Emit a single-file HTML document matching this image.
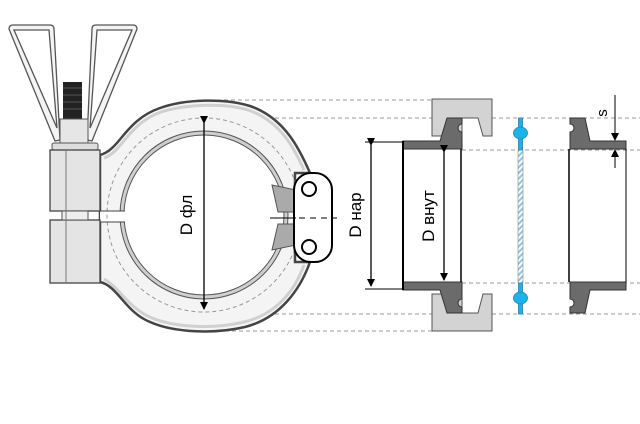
<!DOCTYPE html>
<html><head><meta charset="utf-8"><style>
html,body{margin:0;padding:0;background:#fff}
svg{display:block}
text{font-family:"Liberation Sans",sans-serif;fill:#000}
</style></head><body>
<svg width="640" height="424" viewBox="0 0 640 424" xmlns="http://www.w3.org/2000/svg">
<defs>
<marker id="a" markerWidth="8" markerHeight="10" refX="7" refY="5" orient="auto" markerUnits="userSpaceOnUse"><path d="M0,1 L8,5 L0,9 Z" fill="#000"/></marker>
<pattern id="h" width="4" height="4" patternUnits="userSpaceOnUse" patternTransform="rotate(45)"><rect width="4" height="4" fill="#fff"/><rect width="2" height="4" fill="#8cc6e0"/></pattern>
</defs>
<g stroke="#999" stroke-width="1" stroke-dasharray="4,3" fill="none">
<line x1="217" y1="100" x2="432" y2="100"/>
<line x1="205" y1="118" x2="640" y2="118"/>
<line x1="462" y1="150" x2="640" y2="150"/>
<line x1="462" y1="283" x2="640" y2="283"/>
<line x1="205" y1="314" x2="640" y2="314"/>
<line x1="225" y1="331" x2="432" y2="331"/>
</g>
<g fill="#f4f4f4" stroke="#555" stroke-width="1.3">
<path d="M9,29 Q9,25 13,25 L50,25 Q54,25 54,29 L60,140 L55,141 Z"/>
<path d="M14,30 L49,30 L57,128 Z" fill="#fff"/>
<path d="M137,29 Q137,25 133,25 L96,25 Q92,25 92,29 L87,140 L92,141 Z"/>
<path d="M132,30 L97,30 L90,128 Z" fill="#fff"/>
</g>
<rect x="63" y="82" width="19" height="38" fill="#222"/>
<g stroke="#666" stroke-width="0.8">
<line x1="63" y1="88" x2="82" y2="88"/><line x1="63" y1="95" x2="82" y2="95"/><line x1="63" y1="102" x2="82" y2="102"/><line x1="63" y1="109" x2="82" y2="109"/>
</g>
<rect x="60" y="119" width="28" height="24" fill="#e6e6e6" stroke="#555"/>
<rect x="52" y="143" width="46" height="7" rx="2" fill="#ddd" stroke="#555"/>
<path d="M100,155 C120,150 125,120 160,108 C185,99 225,98 250,106 C285,118 300,150 310,173 L295,173 L295,262 L310,262 C300,290 280,318 245,327 C215,334 175,333 150,322 C125,312 118,286 100,282 Z" fill="#f4f4f4" stroke="#444" stroke-width="2.5"/>
<path d="M104,158 C122,152 128,124 161,112 C186,104 224,103 248,110 C281,121 295,150 304,170" fill="none" stroke="#d0d0d0" stroke-width="3"/>
<path d="M304,265 C295,290 277,314 244,322 C215,329 177,328 152,318 C128,308 120,288 104,279" fill="none" stroke="#d0d0d0" stroke-width="3"/>
<circle cx="204" cy="215" r="84" fill="#cfcfcf" stroke="#555"/>
<circle cx="204" cy="215" r="80" fill="#fff" stroke="#555"/>
<path d="M100,211 L127,211 L127,222 L100,222 Z" fill="#fff" stroke="none"/>
<circle cx="204" cy="215" r="97" fill="none" stroke="#999" stroke-dasharray="4,3"/>
<path d="M272,185 L296,190 L296,212 L278,212 Z" fill="#aaa" stroke="#555"/>
<path d="M278,224 L296,224 L296,245 L272,250 Z" fill="#aaa" stroke="#555"/>
<rect x="50" y="150" width="50" height="61" fill="#e4e4e4" stroke="#444" stroke-width="1.3"/>
<rect x="50" y="220" width="50" height="63" fill="#e4e4e4" stroke="#444" stroke-width="1.3"/>
<rect x="62" y="211" width="26" height="9" fill="#eee" stroke="#555"/>
<line x1="66" y1="150" x2="66" y2="283" stroke="#777"/>
<line x1="100" y1="211" x2="125" y2="211" stroke="#444"/>
<line x1="100" y1="222" x2="125" y2="222" stroke="#444"/>
<rect x="294" y="173" width="38" height="89" rx="17" fill="#fff" stroke="#000" stroke-width="2"/>
<circle cx="309" cy="189" r="7" fill="#fff" stroke="#000" stroke-width="2"/>
<circle cx="309" cy="247" r="7" fill="#fff" stroke="#000" stroke-width="2"/>
<line x1="270" y1="218" x2="296" y2="218" stroke="#000"/>
<line x1="299" y1="218" x2="337" y2="218" stroke="#000" stroke-dasharray="6,5"/>
<line x1="204" y1="123" x2="204" y2="309" stroke="#000" stroke-width="1.3" marker-start="url(#a)" marker-end="url(#a)"/>
<text transform="translate(192,215) rotate(-90)" font-size="17" text-anchor="middle">D фл</text>
<g fill="#d3d3d3" stroke="#555">
<path d="M432,99 L492,99 L492,136 L483,136 L478,118 L462,118 L462,136 L432,136 Z"/>
<path d="M432,331 L492,331 L492,294 L483,294 L478,313 L462,313 L462,294 L432,294 Z"/>
</g>
<g fill="#6b6b6b" stroke="#333">
<path d="M403,141 L440,141 L447,118 L462,118 L462,124 A4,4 0 0 0 462,132 L462,149 L403,149 Z"/>
<path d="M403,290 L440,290 L447,313 L462,313 L462,307 A4,4 0 0 1 462,299 L462,282 L403,282 Z"/>
</g>
<line x1="403" y1="141" x2="403" y2="290" stroke="#000" stroke-width="2"/>
<line x1="461" y1="149" x2="461" y2="282" stroke="#000" stroke-width="1.5"/>
<g fill="#6b6b6b" stroke="#333">
<path d="M626,141 L590,141 L585,118 L570,118 L570,124 A4,4 0 0 1 570,132 L570,149 L626,149 Z"/>
<path d="M626,290 L590,290 L585,313 L570,313 L570,307 A4,4 0 0 0 570,299 L570,282 L626,282 Z"/>
</g>
<line x1="569" y1="149" x2="569" y2="282" stroke="#000" stroke-width="1.5"/>
<line x1="626" y1="149" x2="626" y2="282" stroke="#000" stroke-width="1"/>
<rect x="518" y="150" width="5" height="133" fill="url(#h)" stroke="#888" stroke-width="0.6"/>
<g fill="#19b4ea" stroke="#2a7fa8" stroke-width="0.8">
<rect x="518.5" y="118" width="4" height="32"/>
<ellipse cx="520.5" cy="133" rx="7" ry="6"/>
<rect x="518.5" y="283" width="4" height="31"/>
<ellipse cx="520.5" cy="298" rx="7" ry="6"/>
</g>
<line x1="365" y1="142" x2="403" y2="142" stroke="#000"/>
<line x1="365" y1="289" x2="403" y2="289" stroke="#000"/>
<line x1="371" y1="145" x2="371" y2="286" stroke="#000" stroke-width="1.3" marker-start="url(#a)" marker-end="url(#a)"/>
<text transform="translate(361,215) rotate(-90)" font-size="17" text-anchor="middle">D нар</text>
<line x1="444" y1="152" x2="444" y2="280" stroke="#000" stroke-width="1.3" marker-start="url(#a)" marker-end="url(#a)"/>
<text transform="translate(434,216) rotate(-90)" font-size="17" text-anchor="middle">D внут</text>
<line x1="615" y1="95" x2="615" y2="140" stroke="#000" marker-end="url(#a)"/>
<line x1="615" y1="168" x2="615" y2="150" stroke="#000" marker-end="url(#a)"/>
<text transform="translate(607,113) rotate(-90)" font-size="15" text-anchor="middle">s</text>
</svg>
</body></html>
